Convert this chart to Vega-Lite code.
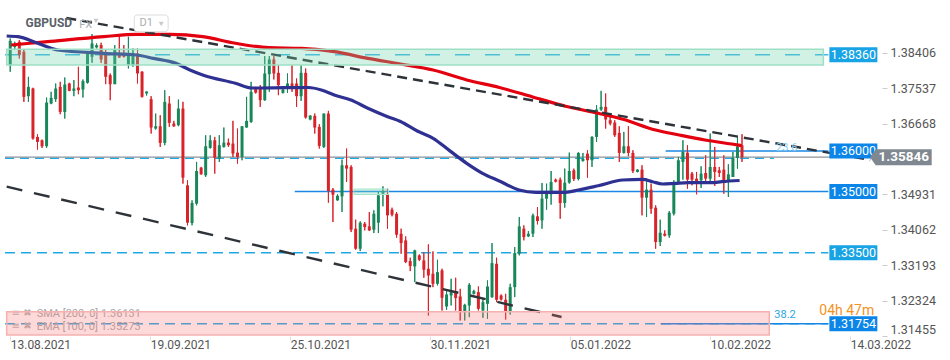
{
"$schema":"https://vega.github.io/schema/vega-lite/v6.json",
"width":882,"height":336,
"autosize":{"type":"none"},
"padding":{"left":0,"top":0,"right":68,"bottom":24},
"background":"white",
"config":{"view":{"stroke":null},"font":"Roboto"},
"datasets":{
"candles":[
{"i":0,"o":1.38106,"h":1.38761,"l":1.37942,"c":1.38704},
{"i":1,"o":1.3855,"h":1.3868,"l":1.385,"c":1.386},
{"i":2,"o":1.38679,"h":1.3872,"l":1.3827,"c":1.38351},
{"i":3,"o":1.38433,"h":1.3849,"l":1.37204,"c":1.37327},
{"i":4,"o":1.37343,"h":1.37819,"l":1.37204,"c":1.37573},
{"i":5,"o":1.37532,"h":1.3755,"l":1.36278,"c":1.36302},
{"i":6,"o":1.36343,"h":1.36409,"l":1.36032,"c":1.3622},
{"i":7,"o":1.36261,"h":1.36278,"l":1.36073,"c":1.36114},
{"i":8,"o":1.36114,"h":1.3731,"l":1.36073,"c":1.37188},
{"i":9,"o":1.37163,"h":1.3745,"l":1.37147,"c":1.37302},
{"i":10,"o":1.3727,"h":1.37655,"l":1.37204,"c":1.37532},
{"i":11,"o":1.37573,"h":1.37696,"l":1.36901,"c":1.36958},
{"i":12,"o":1.36958,"h":1.37802,"l":1.36794,"c":1.3763},
{"i":13,"o":1.37655,"h":1.37671,"l":1.37466,"c":1.37474},
{"i":14,"o":1.37474,"h":1.37737,"l":1.37343,"c":1.37532},
{"i":15,"o":1.37556,"h":1.38065,"l":1.37392,"c":1.3749},
{"i":16,"o":1.37507,"h":1.37753,"l":1.3731,"c":1.37712},
{"i":17,"o":1.37671,"h":1.38433,"l":1.37655,"c":1.38392},
{"i":18,"o":1.3831,"h":1.38868,"l":1.38163,"c":1.38638},
{"i":19,"o":1.3854,"h":1.38638,"l":1.38515,"c":1.38597},
{"i":20,"o":1.38597,"h":1.38655,"l":1.38163,"c":1.38245},
{"i":21,"o":1.38392,"h":1.3849,"l":1.37638,"c":1.37819},
{"i":22,"o":1.3786,"h":1.37901,"l":1.37245,"c":1.37638},
{"i":23,"o":1.37638,"h":1.38597,"l":1.37638,"c":1.38474},
{"i":24,"o":1.38392,"h":1.38843,"l":1.38286,"c":1.38294},
{"i":25,"o":1.38392,"h":1.38597,"l":1.38294,"c":1.3831},
{"i":26,"o":1.38106,"h":1.38802,"l":1.38024,"c":1.38392},
{"i":27,"o":1.38106,"h":1.38515,"l":1.38065,"c":1.38351},
{"i":28,"o":1.38392,"h":1.38515,"l":1.37655,"c":1.37901},
{"i":29,"o":1.37942,"h":1.3796,"l":1.3731,"c":1.37327},
{"i":30,"o":1.3741,"h":1.37458,"l":1.3736,"c":1.37458},
{"i":31,"o":1.3727,"h":1.37343,"l":1.36425,"c":1.36573},
{"i":32,"o":1.36548,"h":1.36917,"l":1.36524,"c":1.36606},
{"i":33,"o":1.36606,"h":1.36876,"l":1.36098,"c":1.36196},
{"i":34,"o":1.36196,"h":1.3749,"l":1.36139,"c":1.37204},
{"i":35,"o":1.37163,"h":1.37343,"l":1.3659,"c":1.36688},
{"i":36,"o":1.36671,"h":1.36737,"l":1.3659,"c":1.36606},
{"i":37,"o":1.3663,"h":1.37261,"l":1.36606,"c":1.3704},
{"i":38,"o":1.3704,"h":1.37204,"l":1.35196,"c":1.35343},
{"i":39,"o":1.35155,"h":1.35278,"l":1.34172,"c":1.34237},
{"i":40,"o":1.34229,"h":1.34786,"l":1.34172,"c":1.3472},
{"i":41,"o":1.34704,"h":1.35729,"l":1.34663,"c":1.35507},
{"i":42,"o":1.35589,"h":1.35606,"l":1.35417,"c":1.35425},
{"i":43,"o":1.354,"h":1.36384,"l":1.3536,"c":1.36114},
{"i":44,"o":1.36073,"h":1.36384,"l":1.36057,"c":1.36261},
{"i":45,"o":1.36261,"h":1.36343,"l":1.35442,"c":1.35835},
{"i":46,"o":1.35811,"h":1.36384,"l":1.35729,"c":1.36139},
{"i":47,"o":1.36098,"h":1.36573,"l":1.36081,"c":1.36204},
{"i":48,"o":1.36204,"h":1.36302,"l":1.36098,"c":1.36139},
{"i":49,"o":1.3618,"h":1.36737,"l":1.35852,"c":1.35934},
{"i":50,"o":1.35958,"h":1.36548,"l":1.35688,"c":1.35852},
{"i":51,"o":1.35852,"h":1.36606,"l":1.3577,"c":1.36606},
{"i":52,"o":1.36573,"h":1.37327,"l":1.36573,"c":1.36737},
{"i":53,"o":1.36712,"h":1.37696,"l":1.36688,"c":1.3745},
{"i":54,"o":1.37548,"h":1.37573,"l":1.3741,"c":1.37425},
{"i":55,"o":1.37532,"h":1.37614,"l":1.37081,"c":1.37245},
{"i":56,"o":1.37245,"h":1.38327,"l":1.37229,"c":1.37901},
{"i":57,"o":1.37884,"h":1.38327,"l":1.3745,"c":1.38245},
{"i":58,"o":1.38245,"h":1.38327,"l":1.37753,"c":1.37901},
{"i":59,"o":1.37917,"h":1.38106,"l":1.37368,"c":1.37614},
{"i":60,"o":1.37425,"h":1.37589,"l":1.3741,"c":1.37507},
{"i":61,"o":1.37532,"h":1.37901,"l":1.37425,"c":1.37655},
{"i":62,"o":1.37655,"h":1.38106,"l":1.3745,"c":1.37589},
{"i":63,"o":1.37655,"h":1.37778,"l":1.37081,"c":1.37343},
{"i":64,"o":1.37343,"h":1.38106,"l":1.37229,"c":1.37917},
{"i":65,"o":1.37917,"h":1.38024,"l":1.36794,"c":1.36819},
{"i":66,"o":1.3677,"h":1.36876,"l":1.36753,"c":1.36868},
{"i":67,"o":1.3686,"h":1.36917,"l":1.36425,"c":1.36573},
{"i":68,"o":1.3659,"h":1.36655,"l":1.36057,"c":1.36122},
{"i":69,"o":1.36098,"h":1.36917,"l":1.36073,"c":1.36917},
{"i":70,"o":1.36917,"h":1.36983,"l":1.34729,"c":1.35016},
{"i":71,"o":1.35048,"h":1.35089,"l":1.34253,"c":1.34925},
{"i":72,"o":1.34786,"h":1.34934,"l":1.3477,"c":1.349},
{"i":73,"o":1.34884,"h":1.35786,"l":1.34499,"c":1.35647},
{"i":74,"o":1.35647,"h":1.36057,"l":1.35237,"c":1.35565},
{"i":75,"o":1.35606,"h":1.35647,"l":1.34007,"c":1.34065},
{"i":76,"o":1.3409,"h":1.34311,"l":1.33573,"c":1.33598},
{"i":77,"o":1.33598,"h":1.3427,"l":1.3354,"c":1.34237},
{"i":78,"o":1.34212,"h":1.34253,"l":1.34048,"c":1.3413},
{"i":79,"o":1.34147,"h":1.34499,"l":1.34032,"c":1.34048},
{"i":80,"o":1.34065,"h":1.3454,"l":1.33983,"c":1.34458},
{"i":81,"o":1.34237,"h":1.34991,"l":1.33983,"c":1.34909},
{"i":82,"o":1.3495,"h":1.3513,"l":1.34639,"c":1.35016},
{"i":83,"o":1.34934,"h":1.35073,"l":1.3409,"c":1.34417},
{"i":84,"o":1.34557,"h":1.34606,"l":1.34393,"c":1.34433},
{"i":85,"o":1.34458,"h":1.34499,"l":1.33868,"c":1.33942},
{"i":86,"o":1.33966,"h":1.3409,"l":1.33475,"c":1.33737},
{"i":87,"o":1.33803,"h":1.33901,"l":1.33245,"c":1.3327},
{"i":88,"o":1.33295,"h":1.33377,"l":1.33049,"c":1.33172},
{"i":89,"o":1.33163,"h":1.33573,"l":1.32778,"c":1.33557},
{"i":90,"o":1.33434,"h":1.33458,"l":1.33295,"c":1.33327},
{"i":91,"o":1.33311,"h":1.33516,"l":1.32885,"c":1.33081},
{"i":92,"o":1.33106,"h":1.33704,"l":1.31959,"c":1.32942},
{"i":93,"o":1.32983,"h":1.33532,"l":1.32655,"c":1.32737},
{"i":94,"o":1.32737,"h":1.33327,"l":1.32696,"c":1.33024},
{"i":95,"o":1.33065,"h":1.33106,"l":1.32081,"c":1.32393},
{"i":96,"o":1.3218,"h":1.32573,"l":1.32098,"c":1.32475},
{"i":97,"o":1.3245,"h":1.3286,"l":1.32204,"c":1.32532},
{"i":98,"o":1.32532,"h":1.32885,"l":1.32081,"c":1.32385},
{"i":99,"o":1.32426,"h":1.32614,"l":1.31836,"c":1.32041},
{"i":100,"o":1.32041,"h":1.32245,"l":1.31836,"c":1.32221},
{"i":101,"o":1.32204,"h":1.32753,"l":1.31918,"c":1.32712},
{"i":102,"o":1.32491,"h":1.3259,"l":1.32475,"c":1.32557},
{"i":103,"o":1.32532,"h":1.32671,"l":1.32081,"c":1.32122},
{"i":104,"o":1.32081,"h":1.32368,"l":1.31902,"c":1.32286},
{"i":105,"o":1.32245,"h":1.32819,"l":1.31877,"c":1.32671},
{"i":106,"o":1.3241,"h":1.33737,"l":1.32393,"c":1.33245},
{"i":107,"o":1.33229,"h":1.33377,"l":1.32286,"c":1.32344},
{"i":108,"o":1.3245,"h":1.32475,"l":1.32327,"c":1.32352},
{"i":109,"o":1.32344,"h":1.32491,"l":1.3186,"c":1.32065},
{"i":110,"o":1.32065,"h":1.32737,"l":1.31983,"c":1.32655},
{"i":111,"o":1.32655,"h":1.33639,"l":1.3241,"c":1.33491},
{"i":112,"o":1.33475,"h":1.34376,"l":1.33434,"c":1.34147},
{"i":113,"o":1.3409,"h":1.34172,"l":1.33803,"c":1.33885},
{"i":114,"o":1.33901,"h":1.34032,"l":1.33885,"c":1.33966},
{"i":115,"o":1.33966,"h":1.34458,"l":1.33885,"c":1.34417},
{"i":116,"o":1.34393,"h":1.34622,"l":1.34196,"c":1.34278},
{"i":117,"o":1.34294,"h":1.35212,"l":1.3409,"c":1.34827},
{"i":118,"o":1.34827,"h":1.35196,"l":1.34557,"c":1.34966},
{"i":119,"o":1.34934,"h":1.35507,"l":1.3468,"c":1.35237},
{"i":120,"o":1.35294,"h":1.35319,"l":1.35229,"c":1.35245},
{"i":121,"o":1.35294,"h":1.35343,"l":1.34335,"c":1.3472},
{"i":122,"o":1.3472,"h":1.35565,"l":1.34606,"c":1.3522},
{"i":123,"o":1.3522,"h":1.35958,"l":1.35196,"c":1.35507},
{"i":124,"o":1.35524,"h":1.35565,"l":1.35261,"c":1.3531},
{"i":125,"o":1.3531,"h":1.35966,"l":1.35278,"c":1.3595},
{"i":126,"o":1.35753,"h":1.3595,"l":1.35737,"c":1.35802},
{"i":127,"o":1.35934,"h":1.36016,"l":1.35343,"c":1.3577},
{"i":128,"o":1.3577,"h":1.3636,"l":1.35606,"c":1.36343},
{"i":129,"o":1.36343,"h":1.37122,"l":1.3622,"c":1.37016},
{"i":130,"o":1.37016,"h":1.37474,"l":1.36983,"c":1.37081},
{"i":131,"o":1.37081,"h":1.37409,"l":1.36548,"c":1.3677},
{"i":132,"o":1.36753,"h":1.36835,"l":1.3663,"c":1.36671},
{"i":133,"o":1.36696,"h":1.36753,"l":1.36343,"c":1.36384},
{"i":134,"o":1.36442,"h":1.36606,"l":1.35729,"c":1.3595},
{"i":135,"o":1.3595,"h":1.36466,"l":1.35934,"c":1.36114},
{"i":136,"o":1.36114,"h":1.36606,"l":1.35868,"c":1.3595},
{"i":137,"o":1.3595,"h":1.36016,"l":1.35458,"c":1.35507},
{"i":138,"o":1.35483,"h":1.35548,"l":1.35475,"c":1.3554},
{"i":139,"o":1.3554,"h":1.35647,"l":1.34417,"c":1.34852},
{"i":140,"o":1.34852,"h":1.35319,"l":1.34376,"c":1.35048},
{"i":141,"o":1.35048,"h":1.35196,"l":1.34458,"c":1.34581},
{"i":142,"o":1.34606,"h":1.34663,"l":1.33598,"c":1.33762},
{"i":143,"o":1.33762,"h":1.34311,"l":1.33663,"c":1.33991},
{"i":144,"o":1.33966,"h":1.34048,"l":1.33901,"c":1.33917},
{"i":145,"o":1.33925,"h":1.34524,"l":1.33868,"c":1.34483},
{"i":146,"o":1.34458,"h":1.35278,"l":1.34417,"c":1.35212},
{"i":147,"o":1.35212,"h":1.35852,"l":1.35196,"c":1.3577},
{"i":148,"o":1.35729,"h":1.36261,"l":1.35294,"c":1.35975},
{"i":149,"o":1.35958,"h":1.36139,"l":1.35073,"c":1.35294},
{"i":150,"o":1.35442,"h":1.35483,"l":1.35155,"c":1.35294},
{"i":151,"o":1.35319,"h":1.35483,"l":1.34934,"c":1.35237},
{"i":152,"o":1.35278,"h":1.35622,"l":1.35089,"c":1.35442},
{"i":153,"o":1.35458,"h":1.35893,"l":1.35253,"c":1.35319},
{"i":154,"o":1.35319,"h":1.36425,"l":1.35237,"c":1.35606},
{"i":155,"o":1.35606,"h":1.36098,"l":1.35139,"c":1.35483},
{"i":156,"o":1.35524,"h":1.35606,"l":1.3536,"c":1.35458},
{"i":157,"o":1.3554,"h":1.35893,"l":1.3495,"c":1.35278},
{"i":158,"o":1.35278,"h":1.35671,"l":1.34868,"c":1.35425},
{"i":159,"o":1.3536,"h":1.35975,"l":1.3536,"c":1.35827},
{"i":160,"o":1.35827,"h":1.36343,"l":1.35565,"c":1.36114},
{"i":161,"o":1.36139,"h":1.36409,"l":1.35729,"c":1.35846}
]},
"layer":[
{"data":{"name":"candles"},
 "mark":{"type":"rule","strokeWidth":1},
 "encoding":{
  "x":{"field":"i","type":"quantitative","scale":{"domain":[-1.15,190.7],"nice":false,"zero":false},
   "axis":{"title":null,"values":[0,30.8,61.6,92.4,123.2,154,184.8],
    "labelExpr":"['13.08.2021','19.09.2021','25.10.2021','30.11.2021','05.01.2022','10.02.2022','14.03.2022'][round(datum.value/30.8)]",
    "labelAlign":"left","labelFontSize":12,"labelColor":"#555","labelFont":"Roboto","tickSize":4,"tickColor":"#ddd",
    "domain":false,"grid":false,"labelPadding":-1,"labelBound":false,"labelOverlap":false,"labelFlush":false}},
  "y":{"field":"l","type":"quantitative","scale":{"domain":[1.31455,1.39705],"nice":false,"zero":false},
   "axis":{"title":null,"orient":"right","values":[1.31455,1.32324,1.33193,1.34062,1.34931,1.36668,1.37537,1.38406],
    "format":".5f","labelFontSize":12.5,"labelColor":"#555","labelFont":"Roboto","tickSize":5,"tickColor":"#ccc",
    "domain":false,"grid":false,"labelFlush":true,"labelPadding":3}},
  "y2":{"field":"h"},
  "color":{"condition":{"test":"datum.c >= datum.o","value":"#17875a"},"value":"#d8232a"}}},
{"data":{"values":[{"v":1.3836}]},
 "mark":{"type":"rule","color":"#3fb6e8","strokeWidth":1.4,"strokeDash":[15,15]},
 "encoding":{"x":{"datum":-1.15,"type":"quantitative","title":null},"x2":{"datum":180},"y":{"field":"v","type":"quantitative","title":null}}},
{"data":{"values":[{"v":1.335},{"v":1.31754}]},
 "mark":{"type":"rule","color":"#1fa8e6","strokeWidth":1.4,"strokeDash":[10,6]},
 "encoding":{"x":{"datum":-1.15,"type":"quantitative","title":null},"x2":{"datum":180},"y":{"field":"v","type":"quantitative","title":null}}},
{"data":{"values":[{"v":1.35818}]},
 "mark":{"type":"rule","color":"#1fa8e6","strokeWidth":1.4,"strokeDash":[9,6]},
 "encoding":{"x":{"datum":-1.15,"type":"quantitative","title":null},"x2":{"datum":168},"y":{"field":"v","type":"quantitative","title":null}}},
{"data":{"values":[{"v":1.35846}]},
 "mark":{"type":"rule","color":"#8c9399","strokeWidth":1.2},
 "encoding":{"x":{"datum":-1.15,"type":"quantitative","title":null},"x2":{"datum":190.5},"y":{"field":"v","type":"quantitative","title":null}}},
{"data":{"values":[{"v":1.36,"s":144.2},{"v":1.35,"s":62.6},{"v":1.31754,"s":143.1}]},
 "mark":{"type":"rule","color":"#1a87e5","strokeWidth":1.5},
 "encoding":{"x":{"field":"s","type":"quantitative","title":null},"x2":{"datum":180},"y":{"field":"v","type":"quantitative","title":null}}},
{"data":{"name":"candles"},
 "mark":{"type":"rule","strokeWidth":1},
 "encoding":{
  "x":{"field":"i","type":"quantitative","title":null},
  "y":{"field":"l","type":"quantitative","title":null},
  "y2":{"field":"h"},
  "color":{"condition":{"test":"datum.c >= datum.o","value":"#17875a"},"value":"#d8232a"}}},
{"data":{"name":"candles"},
 "mark":{"type":"bar","width":3},
 "encoding":{
  "x":{"field":"i","type":"quantitative","title":null},
  "y":{"field":"o","type":"quantitative","title":null},
  "y2":{"field":"c"},
  "color":{"condition":{"test":"datum.c >= datum.o","value":"#17875a"},"value":"#d8232a"}}},
{"data":{"values":[
 {"i":0.155,"v":1.386},{"i":8.2,"v":1.38681},{"i":20.6,"v":1.38804},{"i":27.78,"v":1.38863},{"i":35.17,"v":1.38863},{"i":42.35,"v":1.38804},{"i":49.53,"v":1.38642},{"i":56.93,"v":1.38534},{"i":64.11,"v":1.38519},{"i":71.28,"v":1.38436},{"i":78.68,"v":1.38273},{"i":85.86,"v":1.38134},{"i":93.04,"v":1.37986},{"i":100.43,"v":1.37741},{"i":107.61,"v":1.37557},{"i":114.79,"v":1.37331},{"i":122.18,"v":1.37095},{"i":129.36,"v":1.36923},{"i":134.8,"v":1.36776},{"i":141.98,"v":1.36513},{"i":147.2,"v":1.3639},{"i":152.85,"v":1.36268},{"i":158.73,"v":1.36169},{"i":160.9,"v":1.36131}]},
 "mark":{"type":"line","color":"#e3000f","strokeWidth":3.2,"interpolate":"monotone"},
 "encoding":{"x":{"field":"i","type":"quantitative","title":null},"y":{"field":"v","type":"quantitative","title":null}}},
{"data":{"values":[
 {"i":-0.78,"v":1.38821},{"i":1.68,"v":1.38804},{"i":6.03,"v":1.38642},{"i":10.38,"v":1.38477},{"i":20.6,"v":1.38396},{"i":27.78,"v":1.38355},{"i":31.48,"v":1.38273},{"i":36.48,"v":1.38151},{"i":39.53,"v":1.37986},{"i":42.35,"v":1.37863},{"i":49.53,"v":1.3766},{"i":53.23,"v":1.37544},{"i":60.41,"v":1.37552},{"i":65.63,"v":1.37557},{"i":68.46,"v":1.37495},{"i":71.28,"v":1.37372},{"i":74.98,"v":1.3725},{"i":78.68,"v":1.37046},{"i":83.03,"v":1.3684},{"i":85.86,"v":1.36722},{"i":89.55,"v":1.36488},{"i":93.04,"v":1.36309},{"i":96.73,"v":1.36},{"i":100.43,"v":1.35695},{"i":103.91,"v":1.3545},{"i":107.61,"v":1.35261},{"i":111.96,"v":1.3504},{"i":115.66,"v":1.34983},{"i":122.18,"v":1.34983},{"i":125.01,"v":1.3504},{"i":129.36,"v":1.35145},{"i":134.8,"v":1.35285},{"i":139.15,"v":1.35303},{"i":141.32,"v":1.35244},{"i":143.5,"v":1.35187},{"i":146.33,"v":1.35204},{"i":149.37,"v":1.35219},{"i":154.38,"v":1.35219},{"i":156.55,"v":1.35244},{"i":160.47,"v":1.35273}]},
 "mark":{"type":"line","color":"#2e3192","strokeWidth":3.2,"interpolate":"monotone"},
 "encoding":{"x":{"field":"i","type":"quantitative","title":null},"y":{"field":"v","type":"quantitative","title":null}}},
{"data":{"values":[{"i1":12.34,"v1":1.39263,"i2":189.2,"v2":1.35776}]},
 "mark":{"type":"rule","color":"#2d3338","strokeWidth":2.4,"strokeDash":[10,6]},
 "encoding":{"x":{"field":"i1","type":"quantitative","title":null},"x2":{"field":"i2"},"y":{"field":"v1","type":"quantitative","title":null},"y2":{"field":"v2"}}},
{"data":{"values":[{"i1":-0.78,"v1":1.35121,"i2":121.3,"v2":1.31921}]},
 "mark":{"type":"rule","color":"#2d3338","strokeWidth":2.4,"strokeDash":[16,12]},
 "encoding":{"x":{"field":"i1","type":"quantitative","title":null},"x2":{"field":"i2"},"y":{"field":"v1","type":"quantitative","title":null},"y2":{"field":"v2"}}},
{"data":{"values":[{"t":"SMA [200, 0] 1.36131","v":1.31995},{"t":"EMA [100, 0] 1.35273","v":1.31676}]},
 "mark":{"type":"text","align":"left","baseline":"middle","fontSize":11,"color":"#a9a9a9"},
 "encoding":{"x":{"datum":5.81,"type":"quantitative","title":null},"y":{"field":"v","type":"quantitative","title":null},"text":{"field":"t"}}},
{"data":{"values":[{"t":"≡ ✖","v":1.32019},{"t":"≡ ✖","v":1.317}]},
 "mark":{"type":"text","align":"left","baseline":"middle","fontSize":10,"font":"DejaVu Sans","color":"#b5b5b5"},
 "encoding":{"x":{"datum":0.3,"type":"quantitative","title":null},"y":{"field":"v","type":"quantitative","title":null},"text":{"field":"t"}}},
{"data":{"values":[{"i1":75.6,"i2":83.2,"v1":1.35064,"v2":1.34929}]},
 "mark":{"type":"rect","fill":"#7fd9b5","fillOpacity":0.35,"stroke":"#a6e3cb","strokeWidth":1},
 "encoding":{"x":{"field":"i1","type":"quantitative","title":null},"x2":{"field":"i2"},"y":{"field":"v1","type":"quantitative","title":null},"y2":{"field":"v2"}}},
{"data":{"values":[{"i1":-0.78,"i2":178.9,"v1":1.38494,"v2":1.38109}]},
 "mark":{"type":"rect","fill":"#6fd3ac","fillOpacity":0.32,"stroke":"#9ddfc4","strokeWidth":1.5},
 "encoding":{"x":{"field":"i1","type":"quantitative","title":null},"x2":{"field":"i2"},"y":{"field":"v1","type":"quantitative","title":null},"y2":{"field":"v2"}}},
{"data":{"values":[{"i1":-0.78,"i2":167.0,"v1":1.32052,"v2":1.3148}]},
 "mark":{"type":"rect","fill":"#f87171","fillOpacity":0.27,"stroke":"#f5b0b0","strokeWidth":1.5},
 "encoding":{"x":{"field":"i1","type":"quantitative","title":null},"x2":{"field":"i2"},"y":{"field":"v1","type":"quantitative","title":null},"y2":{"field":"v2"}}},
{"data":{"values":[{"t":"23.6","v":1.36071,"i":168.5,"k":"a"},{"t":"38.2","v":1.31971,"i":168.1,"k":"b"}]},
 "mark":{"type":"text","align":"left","baseline":"middle","fontSize":11},
 "encoding":{"x":{"field":"i","type":"quantitative","title":null},"y":{"field":"v","type":"quantitative","title":null},"text":{"field":"t"},
  "color":{"condition":{"test":"datum.k == 'a'","value":"#86cdf0"},"value":"#2aa6e2"}}},
{"data":{"values":[{"t":"04h 47m","v":1.32075}]},
 "mark":{"type":"text","align":"left","baseline":"middle","fontSize":14,"color":"#f5921e"},
 "encoding":{"x":{"datum":178.0,"type":"quantitative","title":null},"y":{"field":"v","type":"quantitative","title":null},"text":{"field":"t"}}},
{"data":{"values":[{"v":1.3836},{"v":1.335}]},
 "mark":{"type":"point","filled":true,"opacity":1,"color":"#18a3e4","strokeWidth":0,"size":2304,"shape":"M-1,-0.3125L1,-0.3125L1,0.3125L-1,0.3125Z"},
 "encoding":{"x":{"datum":185.5,"type":"quantitative","title":null},"y":{"field":"v","type":"quantitative","title":null}}},
{"data":{"values":[{"v":1.36},{"v":1.35},{"v":1.31754}]},
 "mark":{"type":"point","filled":true,"opacity":1,"color":"#0b86e8","strokeWidth":0,"size":2304,"shape":"M-1,-0.3125L1,-0.3125L1,0.3125L-1,0.3125Z"},
 "encoding":{"x":{"datum":185.5,"type":"quantitative","title":null},"y":{"field":"v","type":"quantitative","title":null}}},
{"data":{"values":[{"v":1.3836,"t":"1.38360"},{"v":1.36,"t":"1.36000"},{"v":1.35,"t":"1.35000"},{"v":1.335,"t":"1.33500"},{"v":1.31754,"t":"1.31754"}]},
 "mark":{"type":"text","align":"center","baseline":"middle","fontSize":12.5,"color":"white"},
 "encoding":{"x":{"datum":185.5,"type":"quantitative","title":null},"y":{"field":"v","type":"quantitative","title":null},"text":{"field":"t"}}},
{"data":{"values":[{"v":1.35846}]},
 "mark":{"type":"point","filled":true,"opacity":1,"color":"#7f8890","strokeWidth":0,"size":3136,"shape":"M-1,-0.286L1,-0.286L1,0.286L-1,0.286L-1.2,0Z"},
 "encoding":{"x":{"datum":196.57,"type":"quantitative","title":null},"y":{"field":"v","type":"quantitative","title":null}}},
{"data":{"values":[{"v":1.35846,"t":"1.35846"}]},
 "mark":{"type":"text","align":"center","baseline":"middle","fontSize":13.5,"fontWeight":"bold","color":"white"},
 "encoding":{"x":{"datum":196.57,"type":"quantitative","title":null},"y":{"field":"v","type":"quantitative","title":null},"text":{"field":"t"}}},
{"data":{"values":[{"i1":27.28,"i2":34.74,"v1":1.39337,"v2":1.38927}]},
 "mark":{"type":"rect","fill":"white","stroke":"#dddddd","strokeWidth":1,"cornerRadius":3},
 "encoding":{"x":{"field":"i1","type":"quantitative","title":null},"x2":{"field":"i2"},"y":{"field":"v1","type":"quantitative","title":null},"y2":{"field":"v2"}}},
{"data":{"values":[{"t":"GBPUSD","i":3.35,"v":1.3914}]},
 "mark":{"type":"text","align":"left","baseline":"middle","fontSize":12,"fontWeight":"bold","color":"#5a6068"},
 "encoding":{"x":{"field":"i","type":"quantitative","title":null},"y":{"field":"v","type":"quantitative","title":null},"text":{"field":"t"}}},
{"data":{"values":[{"t":"FX","i":15.16,"v":1.39103},{"t":"D1","i":28.43,"v":1.39128}]},
 "mark":{"type":"text","align":"left","baseline":"middle","fontSize":11,"color":"#a8adb3"},
 "encoding":{"x":{"field":"i","type":"quantitative","title":null},"y":{"field":"v","type":"quantitative","title":null},"text":{"field":"t"}}},
{"data":{"values":[{"i":18.86,"v":1.3919},{"i":33.22,"v":1.39116}]},
 "mark":{"type":"point","shape":"triangle-down","filled":true,"opacity":1,"color":"#c8ccd0","size":25},
 "encoding":{"x":{"field":"i","type":"quantitative","title":null},"y":{"field":"v","type":"quantitative","title":null}}}
]
}
